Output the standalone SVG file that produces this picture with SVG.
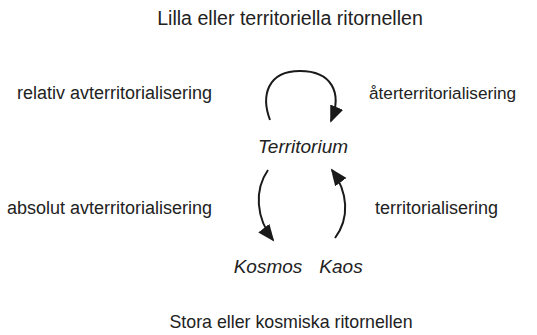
<svg xmlns="http://www.w3.org/2000/svg" width="537" height="335" viewBox="0 0 537 335">
<style>
  text { font-family: "Liberation Sans", Arial, sans-serif; fill: #222; }
  .lbl { font-size: 18px; }
  .title { text-anchor: middle; }
  .node { font-size: 19px; font-style: italic; text-anchor: middle; }
  .conn { fill: none; stroke: #1a1a1a; stroke-width: 2; marker-end: url(#ah); }
</style>
<defs>
  <marker id="ah" markerUnits="userSpaceOnUse" markerWidth="20" markerHeight="16" refX="15" refY="7" orient="auto">
    <path d="M0,0 L17,7 L0,14 z" fill="#1a1a1a"/>
  </marker>
</defs>
<rect width="537" height="335" fill="#fff"/>

<g id="title-top"><text class="title" x="290" y="25" style="font-size:19.6px">Lilla eller territoriella ritornellen</text></g>
<g id="title-bottom"><text class="title" x="291" y="328" style="font-size:17.8px">Stora eller kosmiska ritornellen</text></g>

<g id="label-relativ"><text class="lbl" x="212" y="99" text-anchor="end">relativ avterritorialisering</text></g>
<g id="label-ater"><text class="lbl" x="369" y="99" style="font-size:17.2px">återterritorialisering</text></g>
<g id="label-absolut"><text class="lbl" x="212" y="214" text-anchor="end">absolut avterritorialisering</text></g>
<g id="label-terr"><text class="lbl" x="375" y="214">territorialisering</text></g>

<g id="territorium"><text class="node" x="303" y="153">Territorium</text></g>
<g id="kosmos"><text class="node" x="268" y="273">Kosmos</text></g>
<g id="kaos"><text class="node" x="341" y="273">Kaos</text></g>

<g id="connectors">
  <path class="conn" d="M270,120 C261,96 267,71 300,71 C331,71 343,92 331,121"/>
  <path class="conn" d="M268,170 C254,190 256,218 273,240"/>
  <path class="conn" d="M335,238 C350,218 348,192 332,170"/>
</g>
</svg>
